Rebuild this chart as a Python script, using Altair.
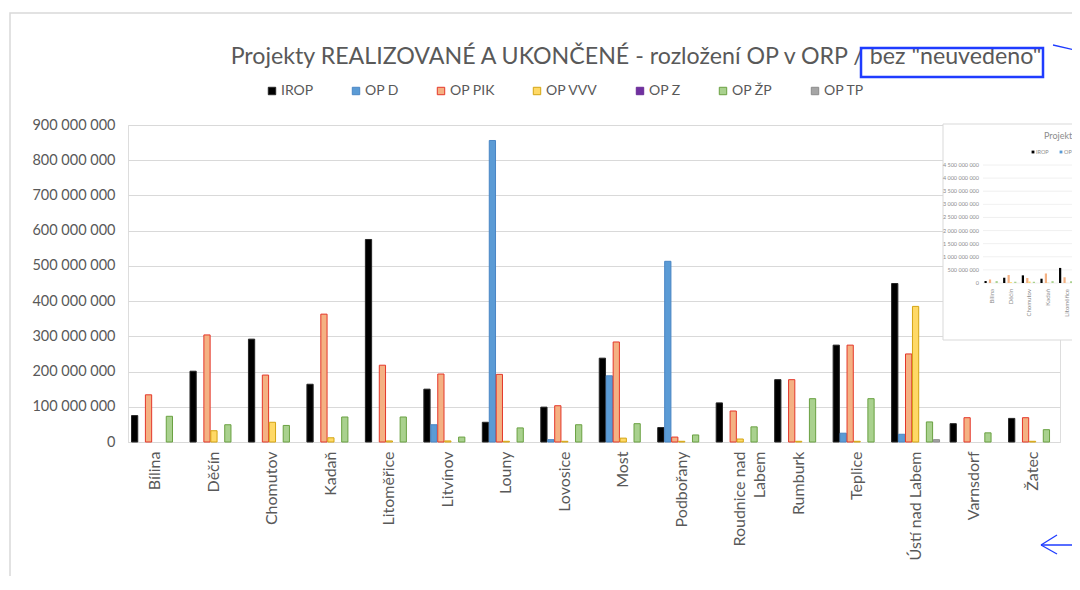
import altair as alt
import pandas as pd

FONT = "Lato"
GREY = "#595959"

cities = ["Bílina", "Děčín", "Chomutov", "Kadaň", "Litoměřice", "Litvínov", "Louny",
          "Lovosice", "Most", "Podbořany", "Roudnice nad Labem", "Rumburk", "Teplice",
          "Ústí nad Labem", "Varnsdorf", "Žatec"]
series = ["IROP", "OP D", "OP PIK", "OP VVV", "OP Z", "OP ŽP", "OP TP"]

# values in millions CZK
irop   = [75, 201, 292, 164, 575, 150, 56, 99, 238, 41, 111, 177, 275, 450, 52, 67]
op_d   = [0, 0, 0, 0, 0, 49, 856, 6.6, 188, 513, 0, 0, 25, 22, 0, 0]
op_pik = [134, 304, 190, 363, 218, 193, 192, 103, 284, 14, 88, 177, 275, 250, 69, 69]
op_vvv = [0, 32, 56, 12, 3, 3, 2, 2, 11, 2, 8.5, 2, 2, 385, 0, 2]
op_z   = [0, 0, 0, 0, 0, 0, 0, 0, 0, 0, 0, 0, 0, 0, 0, 0]
op_zp  = [73, 49, 47, 71, 71, 14, 40, 49, 52, 20, 43, 123, 123, 57, 26, 35]
op_tp  = [0, 0, 0, 0, 0, 0, 0, 0, 0, 0, 0, 0, 0, 6.6, 0, 0]

fills   = ["#000000", "#5b9bd5", "#f4b183", "#ffd966", "#7030a0", "#a9d18e", "#a5a5a5"]
strokes = ["#262626", "#4a86c5", "#e4372a", "#d4a514", "#6a2c96", "#6aa142", "#8c8c8c"]

y_ticks = [0, 1e8, 2e8, 3e8, 4e8, 5e8, 6e8, 7e8, 8e8, 9e8]
inset_ticks = [0, 5e8, 1e9, 1.5e9, 2e9, 2.5e9, 3e9, 3.5e9, 4e9, 4.5e9]

title_text = 'Projekty REALIZOVANÉ A UKONČENÉ - rozložení OP v ORP / bez "neuvedeno"'

rows = []
for s, vals in zip(series, [irop, op_d, op_pik, op_vvv, op_z, op_zp, op_tp]):
    for c, v in zip(cities, vals):
        rows.append({"ORP": c, "OP": s, "value": v * 1e6})
df = pd.DataFrame(rows)
df = df[df["value"] > 0]

one = pd.DataFrame({"a": [0]})

# ---------------- main chart ----------------
legend = alt.Legend(title=None, orient="none", legendX=137, legendY=-41,
                    direction="horizontal", symbolType="square", symbolSize=55,
                    symbolStrokeWidth=1, labelFontSize=14, labelColor=GREY,
                    labelFont=FONT, columnPadding=35, labelOffset=2, padding=0)

bars = alt.Chart(df).mark_bar(strokeWidth=1).encode(
    x=alt.X("ORP:N", sort=cities,
            scale=alt.Scale(domain=cities, paddingInner=0.18, paddingOuter=0.06),
            axis=alt.Axis(title=None, labelAngle=-90, ticks=False, domainColor="#d9d9d9",
                          labelPadding=9, labelFontSize=16, labelColor=GREY, labelFont=FONT,
                          labelLineHeight=20,
                          labelExpr="datum.value == 'Roudnice nad Labem' ? ['Roudnice nad', 'Labem'] : datum.value")),
    xOffset=alt.XOffset("OP:N", sort=series, scale=alt.Scale(domain=series, paddingInner=0.1)),
    y=alt.Y("value:Q", scale=alt.Scale(domain=[0, 9e8]),
            axis=alt.Axis(title=None, values=y_ticks, format=",d", domain=False, ticks=False,
                          gridColor="#d9d9d9", labelPadding=13, labelFontSize=14.5,
                          labelColor=GREY, labelFont=FONT)),
    fill=alt.Fill("OP:N", scale=alt.Scale(domain=series, range=fills), legend=legend),
    stroke=alt.Stroke("OP:N", scale=alt.Scale(domain=series, range=strokes), legend=legend),
)

title = alt.Chart(one).mark_text(align="center", baseline="middle", fontSize=23.2, font=FONT,
                                 color=GREY, text=title_text).encode(
    x=alt.value(508), y=alt.value(-68))

# ---------------- outer frame ----------------
frame = alt.Chart(one).mark_rect(filled=False, stroke="#d9d9d9", strokeWidth=1.5).encode(
    x=alt.value(-118), x2=alt.value(1100), y=alt.value(-112), y2=alt.value(700))

# ---------------- inset (pasted small chart) ----------------
ix = alt.Scale(domain=cities, range=[855, 1153], paddingInner=0.17, paddingOuter=0.08)
iy = alt.Scale(domain=[0, 4.5e9], range=[158, 40])

inset_bg = alt.Chart(one).mark_rect(fill="white", stroke="#d9d9d9", strokeWidth=1).encode(
    x=alt.value(815), x2=alt.value(1000), y=alt.value(-1), y2=alt.value(215))

tick_df = pd.DataFrame({"v": inset_ticks,
                        "lab": [f"{int(v):,}".replace(",", " ") for v in inset_ticks]})
inset_grid = alt.Chart(tick_df).mark_rule(color="#ececec", strokeWidth=0.8).encode(
    y=alt.Y("v:Q", scale=iy, axis=None), x=alt.value(855), x2=alt.value(1000))
inset_ylab = alt.Chart(tick_df).mark_text(align="right", baseline="middle", fontSize=5.5,
                                          color="#8c8c8c", font=FONT).encode(
    y=alt.Y("v:Q", scale=iy, axis=None), x=alt.value(851), text="lab:N")

inset_bars = alt.Chart(df).mark_bar().encode(
    x=alt.X("ORP:N", sort=cities, scale=ix, axis=None),
    xOffset=alt.XOffset("OP:N", sort=series, scale=alt.Scale(domain=series)),
    y=alt.Y("value:Q", scale=iy, axis=None),
    color=alt.Color("OP:N", scale=alt.Scale(domain=series, range=fills), legend=None),
)
city_df = pd.DataFrame({"ORP": cities})
inset_xlab = alt.Chart(city_df).mark_text(angle=270, align="right", baseline="middle",
                                          fontSize=6, color="#8c8c8c", font=FONT).encode(
    x=alt.X("ORP:N", sort=cities, scale=ix, axis=None), y=alt.value(164), text="ORP:N")
inset_title = alt.Chart(one).mark_text(align="left", baseline="middle", fontSize=9,
                                       color="#8c8c8c", font=FONT, text=title_text).encode(
    x=alt.value(916), y=alt.value(11))
inset_leg_sq = alt.layer(
    alt.Chart(one).mark_square(size=8, opacity=1, color=fills[0]).encode(x=alt.value(905), y=alt.value(27)),
    alt.Chart(one).mark_square(size=8, opacity=1, color=fills[1]).encode(x=alt.value(933), y=alt.value(27)),
)
inset_leg_tx = alt.layer(
    alt.Chart(one).mark_text(align="left", baseline="middle", fontSize=5.5, color="#8c8c8c",
                             font=FONT, text=series[0]).encode(x=alt.value(908), y=alt.value(27)),
    alt.Chart(one).mark_text(align="left", baseline="middle", fontSize=5.5, color="#8c8c8c",
                             font=FONT, text=series[1]).encode(x=alt.value(936), y=alt.value(27)),
)

inset = alt.layer(inset_bg, inset_grid, inset_ylab, inset_bars, inset_xlab,
                  inset_title, inset_leg_sq, inset_leg_tx)

# ---------------- blue annotations ----------------
BLUE = "#1f3cff"
box = alt.Chart(one).mark_rect(filled=False, stroke=BLUE, strokeWidth=2.5).encode(
    x=alt.value(733), x2=alt.value(915), y=alt.value(-77), y2=alt.value(-48))
line_top = alt.Chart(one).mark_rule(color=BLUE, strokeWidth=1.3).encode(
    x=alt.value(925), y=alt.value(-80), x2=alt.value(960), y2=alt.value(-72))
arrow_shaft = alt.Chart(one).mark_rule(color=BLUE, strokeWidth=1.3).encode(
    x=alt.value(913), y=alt.value(420), x2=alt.value(960), y2=alt.value(420))
arrow_a = alt.Chart(one).mark_rule(color=BLUE, strokeWidth=1.3).encode(
    x=alt.value(913), y=alt.value(420), x2=alt.value(929), y2=alt.value(410))
arrow_b = alt.Chart(one).mark_rule(color=BLUE, strokeWidth=1.3).encode(
    x=alt.value(913), y=alt.value(420), x2=alt.value(929), y2=alt.value(429))

chart = alt.layer(
    frame, title, bars, inset, box, line_top, arrow_shaft, arrow_a, arrow_b
).resolve_scale(
    x="independent", y="independent", xOffset="independent", color="independent"
).properties(
    width=932, height=317,
    padding={"left": 120, "top": 117, "right": 12, "bottom": 134},
    autosize=alt.AutoSizeParams(type="none"),
).configure_view(stroke=None).configure(
    background="white",
    locale={"number": {"decimal": ",", "thousands": " ", "grouping": [3],
                       "currency": ["", " Kč"]}},
)

chart.save("out.html", embed_options={"renderer": "svg", "actions": False})
